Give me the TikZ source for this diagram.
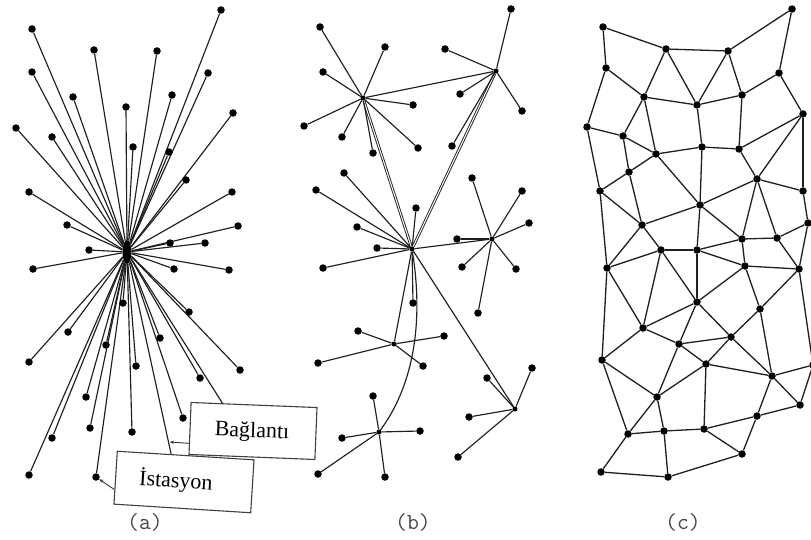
\documentclass[tikz,border=0pt]{standalone}
\usepackage{fontspec}
\newfontfamily\boxfont{Liberation Serif}
\usetikzlibrary{arrows.meta,shapes.geometric,calc}
\begin{document}
\begin{tikzpicture}[x=1pt,y=-1pt,
  dot/.style={circle,fill=black,inner sep=0pt,minimum size=7.5pt},
  hubdot/.style={circle,fill=black,inner sep=0pt,minimum size=5pt},
  link/.style={line width=1.15pt,black!88},
  dbl/.style={line width=0.9pt,black!88,double=white,double distance=1pt},
  mesh/.style={line width=1.3pt,black!88},
  callout/.style={draw=black!75,fill=white,line width=1.1pt,inner sep=0pt},
  lbl/.style={font=\boxfont\fontsize{22}{22}\selectfont},
  ptr/.style={line width=0.9pt,black!80,-{Stealth[length=4pt,width=3.5pt]}},
  caption/.style={font=\ttfamily\fontsize{23}{23}\selectfont,text=black!72}]
\useasboundingbox[fill=white] (0,0) rectangle (811,540);

% ---------- (a) centralized star ----------
\node[fill=black,ellipse,inner sep=0pt,minimum width=9pt,minimum height=24pt] (hubA) at (127,252) {};
\coordinate (hidA1) at (172,458);
\coordinate (hidA2) at (228,412);
\foreach \n/\x/\y in {a1/221/10,a2/32/29,a3/94/50,a4/157/51,a5/32/72,a6/208/73,
  a7/73/97,a8/172/95,a9/126/107,a10/233/113,a11/16/128,a12/52/137,a13/133/147,
  a14/169/152,a15/186/180,a16/29/192,a17/232/192,a18/67/225,a19/238/226,
  a20/170/243,a21/205/243,a22/89/250,
  b1/33/269,b2/174/269,b3/229/270,b4/189/312,b5/68/332,b6/160/338,b7/106/345,
  b8/29/362,b9/136/366,b10/240/370,b11/200/378,b12/86/397,b13/183/418,
  b14/52/438,b15/90/428,b16/132/432,b17/29/475,b18/96/477,b19/123/303}
{
  \node[dot] (\n) at (\x,\y) {};
  \draw[link] (hubA) -- (\n);
}
\draw[link] (hubA) -- (hidA1);
\draw[link] (hubA) -- (hidA2);

% ---------- (b) decentralized ----------
\foreach \n/\x/\y in {h1/363/98,h2/496/71,h3/412/249,h4/492/239,h5/394/344,h6/515/409,h7/379/432}
  \node[hubdot] (\n) at (\x,\y) {};
\draw[link] (h1) -- (h2);
\draw[dbl] (h1) -- (h3);
\draw[dbl] (h2) -- (h3);
\draw[link] (h3) -- (h4);
\draw[link] (h3) -- (h5);
\draw[link] (h3) -- (h6);
\draw[link] (h3) .. controls (425,330) and (410,390) .. (h7);

\foreach \n/\x/\y/\h in {
  p1/320/27/h1,p2/385/47/h1,p3/323/72/h1,p4/413/105/h1,p5/304/126/h1,
  p6/342/137/h1,p7/418/148/h1,p8/373/153/h1,
  q1/511/9/h2,q2/445/49/h2,q3/460/94/h2,q4/522/111/h2,q5/452/146/h2,
  r1/344/173/h3,r2/316/190/h3,r3/416/208/h3,r4/357/227/h3,r5/377/248/h3,
  r6/323/268/h3,r7/413/303/h3,
  s1/472/178/h4,s2/522/191/h4,s3/529/223/h4,s4/457/239/h4,s5/462/267/h4,
  s6/516/269/h4,s7/478/313/h4,
  t1/358/331/h5,t2/444/336/h5,t3/318/363/h5,t4/423/366/h5,
  u1/487/378/h6,u2/532/368/h6,u3/469/417/h6,u4/458/457/h6,
  v1/373/396/h7,v2/342/438/h7,v3/420/431/h7,v4/318/474/h7,v5/385/477/h7}
{
  \node[dot] (\n) at (\x,\y) {};
  \draw[link] (\h) -- (\n);
}

% ---------- (c) distributed mesh ----------
\foreach \n/\x/\y in {
  A1/603/27,A2/666/49,A3/728/51,A4/792/9,
  B1/606/68,B2/644/97,B3/697/105,B4/742/95,B5/779/73,B6/803/114,
  C1/587/127,C2/623/136,C3/656/154,C4/702/147,C5/739/149,
  D1/629/172,D2/757/179,D3/803/191,E1/600/191,E2/700/205,
  F1/642/225,F2/808/223,G1/742/239,G2/777/238,H1/661/250,H2/697/250,
  I1/607/268,I2/745/266,I3/799/269,J1/697/302,J2/760/309,
  K1/643/328,K2/731/337,K3/679/344,L1/602/360,L2/706/364,L3/772/376,
  P/813/365,M1/657/397,M2/757/416,M3/800/405,
  N1/628/434,N2/664/431,N3/704/429,N4/742/454,O1/601/472,O2/668/477}
  \node[dot] (m\n) at (\x,\y) {};
\foreach \u/\v in {
  A1/A2,A2/A3,A3/A4,A1/B1,A2/B2,A2/B3,A3/B3,A3/B4,A4/B5,
  B1/B2,B2/B3,B3/B4,B4/B5,B5/B6,
  B1/C1,B2/C2,B2/C3,B3/C4,B4/C5,B6/C5,B6/D2,B6/D3,
  C1/C2,C2/C3,C3/C4,C4/C5,
  C1/E1,C2/D1,C3/D1,C3/E2,C4/E2,C5/D2,
  D1/E1,D1/F1,E1/F1,E1/I1,E2/F1,E2/H2,E2/G1,E2/D2,
  D2/D3,D2/G1,D2/G2,D3/F2,F2/G2,F2/I3,
  F1/H1,F1/I1,H1/I1,H1/H2,G1/G2,G1/H2,G1/I2,G2/I3,H2/I2,I2/I3,
  H1/K1,H1/J1,H2/J1,I2/J1,I2/J2,I3/J2,I3/P,
  I1/K1,I1/L1,J1/K1,J1/K3,J1/K2,J2/K2,J2/L3,
  K1/K3,K3/K2,K3/L2,K2/L2,K2/L3,L2/L3,K1/L1,K3/M1,L1/M1,L2/M1,L2/N3,
  L3/P,L3/M2,L3/M3,M3/P,
  L1/N1,M1/N1,M1/N2,N1/N2,N2/N3,N3/M2,M2/M3,N3/N4,M2/N4,
  N1/O1,N2/O2,O1/O2,O2/N4}
  \draw[mesh] (m\u) -- (m\v);

% ---------- labelled call-outs ----------
\node[callout,rotate=-2.3,minimum width=126pt,minimum height=52pt] (boxLink) at (253,431) {};
\node[lbl,rotate=-2.3] (txtLink) at (252,432) {Bağlantı};
\node[callout,rotate=-3.6,minimum width=137pt,minimum height=53pt] (boxSta) at (184,482) {};
\node[lbl,rotate=-3.6] (txtSta) at (176,481) {İstasyon};
\coordinate (linkTip) at (170,442);
\draw[ptr] ($(boxLink.north west)!0.78!(boxLink.south west)$) -- (linkTip);
\draw[ptr] ($(boxSta.north west)!0.72!(boxSta.south west)$) -- (b18);

% ---------- captions ----------
\node[caption] (capA) at (145,522) {(a)};
\node[caption] (capB) at (413,522) {(b)};
\node[caption] (capC) at (683,522) {(c)};
\end{tikzpicture}
\end{document}
